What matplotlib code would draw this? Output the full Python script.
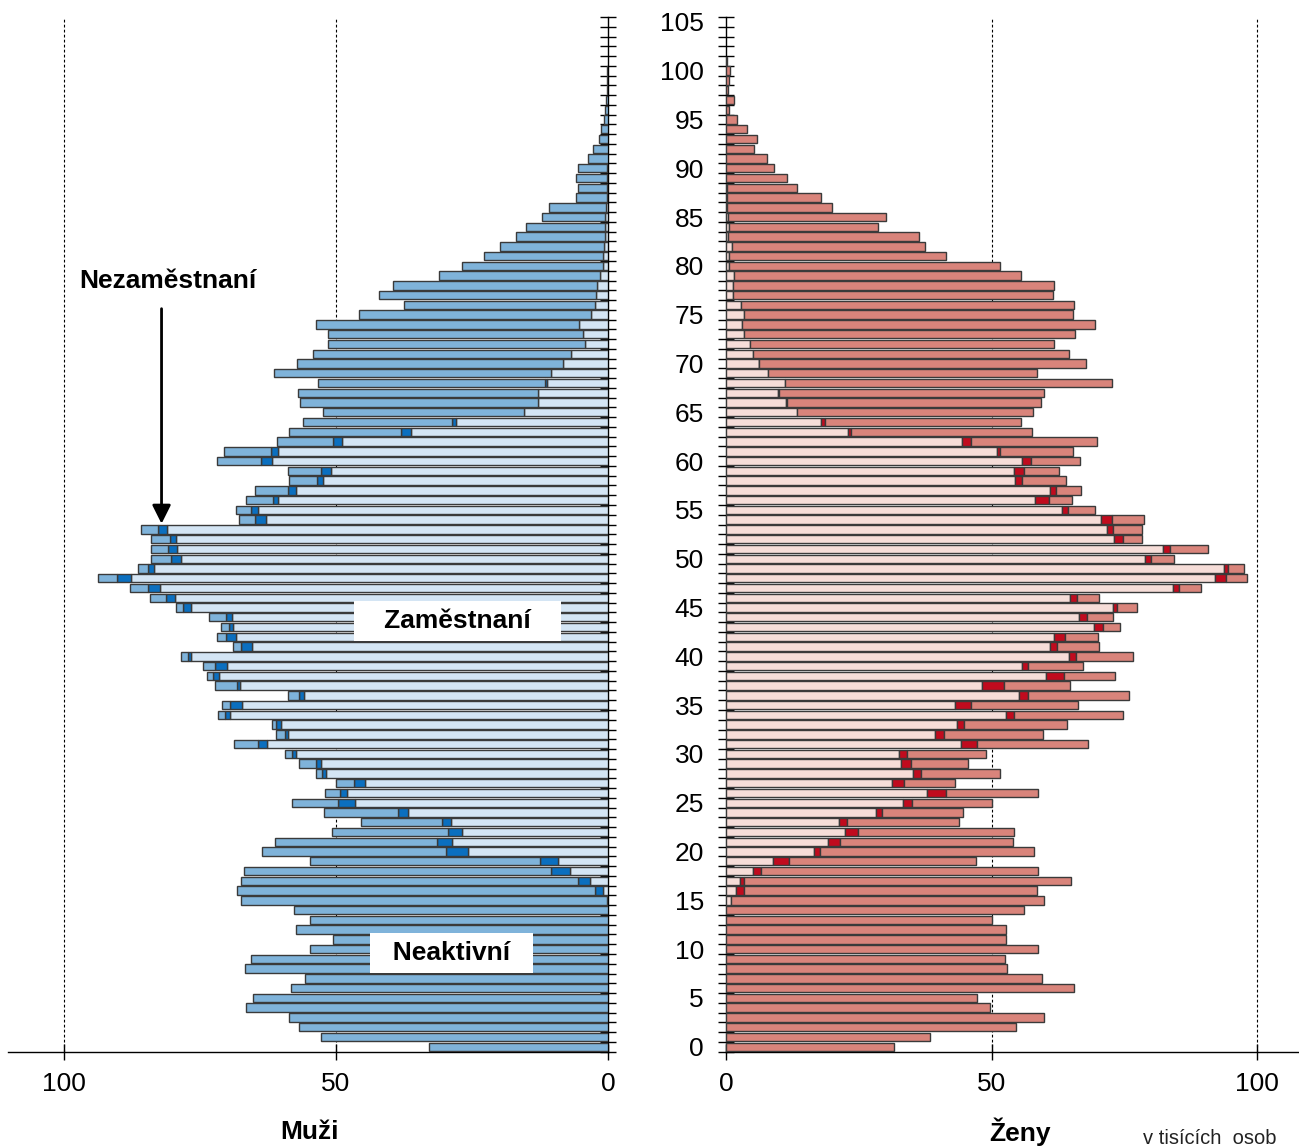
import numpy as np
import matplotlib.pyplot as plt

plt.rcParams['font.family'] = ['Liberation Sans', 'DejaVu Sans']

ages = np.arange(106)

# muži (v tisících osob), po jednotlivých letech věku 0..105
men_employed = [
    0, 0, 0, 0, 0, 0, 0, 0, 0, 0,
    0, 0, 0, 0, 0, 0.1, 1.0, 3.3, 6.9, 9.1,
    25.7, 28.7, 26.9, 28.9, 36.7, 46.5, 48.0, 44.6, 51.8, 52.8,
    57.3, 62.7, 58.7, 60.0, 69.5, 67.2, 55.8, 67.6, 71.5, 69.9,
    76.6, 65.4, 68.3, 68.8, 69.0, 76.6, 79.6, 82.3, 87.7, 83.4,
    78.4, 79.2, 79.3, 81.0, 62.9, 64.2, 60.6, 57.3, 52.4, 50.9,
    61.7, 60.6, 48.9, 36.2, 27.9, 15.4, 12.9, 12.9, 11.2, 10.4,
    8.2, 6.8, 4.3, 4.6, 5.4, 3.1, 2.4, 2.2, 2.0, 1.5,
    1.0, 1.0, 0.8, 0.6, 0.5, 0.5, 0.3, 0.2, 0.2, 0.1,
    0.1, 0, 0, 0, 0, 0, 0, 0, 0, 0,
    0, 0, 0, 0, 0, 0]
men_unemployed = [
    0, 0, 0, 0, 0, 0, 0, 0, 0, 0,
    0, 0, 0, 0, 0, 0, 1.4, 2.2, 3.5, 3.4,
    4.1, 2.7, 2.5, 1.5, 1.9, 3.0, 1.3, 2.0, 0.7, 0.9,
    0.8, 1.6, 0.7, 0.9, 0.9, 2.2, 0.9, 0.6, 1.1, 2.2,
    0.5, 2.0, 1.8, 0.9, 1.1, 1.4, 1.6, 2.2, 2.5, 1.0,
    1.8, 1.7, 1.2, 1.6, 2.0, 1.3, 0.9, 1.4, 1.0, 1.8,
    2.1, 1.3, 1.6, 1.8, 0.8, 0, 0, 0, 0.3, 0] + [0] * 36
men_total = [
    32.8, 52.7, 56.8, 58.5, 66.4, 65.2, 58.3, 55.6, 66.7, 65.6,
    54.8, 50.5, 57.3, 54.7, 57.6, 67.4, 68.1, 67.4, 66.9, 54.8,
    63.5, 61.2, 50.7, 45.3, 52.2, 58.1, 52.0, 50.0, 53.7, 56.8,
    59.3, 68.6, 61.0, 61.8, 71.7, 70.9, 58.8, 72.1, 73.6, 74.3,
    78.4, 68.9, 71.9, 71.1, 73.3, 79.4, 84.1, 87.8, 93.7, 86.3,
    83.9, 83.9, 83.9, 85.8, 67.7, 68.4, 66.5, 64.8, 58.5, 58.8,
    71.9, 70.6, 60.8, 58.5, 56.1, 52.4, 56.6, 56.9, 53.2, 61.3,
    57.1, 54.1, 51.4, 51.4, 53.6, 45.8, 37.5, 42.1, 39.4, 31.0,
    26.8, 22.7, 19.8, 16.9, 15.0, 12.2, 10.8, 5.8, 5.5, 5.8,
    5.6, 3.7, 2.8, 1.7, 1.2, 0.7, 0.6, 0.3, 0.2, 0.1,
    0.1, 0, 0, 0, 0, 0]

# ženy
women_employed = [
    0, 0, 0, 0, 0, 0, 0, 0, 0, 0,
    0, 0, 0, 0, 0, 0.9, 1.9, 2.6, 5.0, 8.8,
    16.6, 19.3, 22.4, 21.2, 28.2, 33.4, 37.9, 31.2, 35.2, 32.9,
    32.6, 44.2, 39.3, 43.5, 52.8, 43.2, 55.2, 48.3, 60.3, 55.7,
    64.6, 61.0, 61.8, 69.3, 66.5, 72.8, 64.8, 84.2, 92.1, 93.7,
    78.9, 82.3, 73.1, 71.7, 70.6, 63.3, 58.1, 61.0, 54.5, 54.3,
    55.8, 51.0, 44.4, 22.9, 17.8, 13.3, 11.3, 9.7, 11.1, 7.9,
    6.2, 5.1, 4.6, 3.3, 3.1, 3.3, 2.8, 1.3, 1.3, 1.6,
    0.5, 0.5, 1.1, 0.3, 0.5, 0.3, 0.2, 0.2, 0.1, 0] + [0] * 16
women_unemployed = [
    0, 0, 0, 0, 0, 0, 0, 0, 0, 0,
    0, 0, 0, 0, 0, 0, 1.4, 0.7, 1.6, 3.0,
    1.1, 2.1, 2.5, 1.5, 1.2, 1.6, 3.6, 2.3, 1.5, 2.0,
    1.4, 3.0, 1.7, 1.3, 1.5, 3.0, 1.6, 4.0, 3.3, 1.2,
    1.3, 1.4, 2.1, 1.6, 1.4, 0.9, 1.3, 1.1, 2.1, 0.9,
    1.1, 1.4, 1.6, 1.1, 2.0, 1.1, 2.7, 1.1, 1.3, 1.8,
    1.6, 0.6, 1.7, 0.6, 0.9, 0, 0.2, 0.2, 0, 0,
    0.1] + [0] * 35
women_total = [
    31.7, 38.5, 54.6, 59.8, 49.8, 47.2, 65.6, 59.5, 53.0, 52.5,
    58.8, 52.8, 52.8, 50.0, 56.1, 59.8, 58.5, 64.9, 58.8, 47.0,
    58.0, 54.0, 54.3, 43.8, 44.7, 50.0, 58.7, 43.1, 51.6, 45.5,
    48.9, 68.1, 59.7, 64.3, 74.8, 66.3, 75.9, 64.8, 73.3, 67.3,
    76.6, 70.3, 70.0, 74.1, 72.8, 77.4, 70.3, 89.4, 98.2, 97.5,
    84.3, 90.7, 78.3, 78.3, 78.7, 69.4, 65.1, 66.8, 64.1, 62.8,
    66.6, 65.3, 69.9, 57.6, 55.5, 57.8, 59.3, 59.8, 72.7, 58.6,
    67.8, 64.6, 61.8, 65.8, 69.4, 65.3, 65.6, 61.5, 61.8, 55.6,
    51.6, 41.5, 37.4, 36.4, 28.6, 30.2, 19.9, 17.9, 13.3, 11.5,
    9.0, 7.8, 5.3, 5.8, 4.0, 2.0, 0.5, 1.6, 0.4, 0.5,
    0.8, 0.1, 0, 0, 0, 0]

men_colors = ['#d4e5f4', '#0b6fbf', '#7fb3da']
women_colors = ['#f6ddd8', '#c00b1e', '#d9847b']
edge = '#3a3a3a'
bar_h = 0.86


def draw_side(ax, employed, unemployed, total, colors):
    e = np.array(employed, dtype=float)
    u = np.array(unemployed, dtype=float)
    t = np.array(total, dtype=float)
    inactive = np.clip(t - e - u, 0, None)
    parts = [(e, np.zeros_like(e)), (u, e), (inactive, e + u)]
    for (w, left), c in zip(parts, colors):
        m = w > 0
        ax.barh(ages[m], w[m], left=left[m], height=bar_h, color=c,
                edgecolor=edge, linewidth=1.0, zorder=3)
    for g in (50, 100):
        ax.axvline(g, color='black', lw=0.8, ls=(0, (2.5, 2)), zorder=1)
    ax.set_ylim(-0.5, 105.5)
    ax.set_xticks([0, 50, 100])
    ax.tick_params(axis='x', direction='inout', length=12, width=1,
                   labelsize=19, pad=9)
    ax.set_yticks(np.arange(-0.5, 106, 1), minor=True)
    ax.tick_params(axis='y', which='minor', direction='inout', length=12, width=1)
    ax.spines['top'].set_visible(False)
    for s in ax.spines.values():
        s.set_linewidth(1.0)


fig = plt.figure(figsize=(12.99, 11.47), dpi=100)
bottom = 1 - 1051.6 / 1147
height = (1051.6 - 17) / 1147

axL = fig.add_axes([8 / 1299, bottom, 600 / 1299, height])
draw_side(axL, men_employed, men_unemployed, men_total, men_colors)
axL.set_xlim(110.2, 0)
axL.spines['left'].set_visible(False)
axL.yaxis.tick_right()
axL.set_yticks([])
axL.set_yticks(np.arange(-0.5, 106, 1), minor=True)
axL.tick_params(axis='y', which='minor', direction='inout', length=12, width=1)

axR = fig.add_axes([726 / 1299, bottom, 573 / 1299, height])
draw_side(axR, women_employed, women_unemployed, women_total, women_colors)
axR.set_xlim(0, 107.9)
axR.spines['right'].set_visible(False)
axR.set_yticks(np.arange(0, 106, 5))
axR.tick_params(axis='y', which='major', length=0, labelsize=19, pad=16)

lbl = dict(fontsize=19, fontweight='bold', ha='center', va='center', zorder=6)
box = dict(boxstyle='square,pad=0.3', facecolor='white', edgecolor='none')
axL.text(27.6, 43.6, '\u00a0\u00a0\u00a0Zaměstnaní\u00a0\u00a0\u00a0', bbox=box, **lbl)
axL.text(28.8, 9.6, '\u00a0\u00a0Neaktivní\u00a0\u00a0', bbox=box, **lbl)
axL.text(80.9, 78.5, 'Nezaměstnaní', **lbl)
axL.annotate('', xy=(82.0, 53.3), xytext=(82.0, 75.9),
             arrowprops=dict(arrowstyle='-|>', color='black', lw=2,
                             mutation_scale=28), zorder=6)

fig.text(310 / 1299, 1 - 1132 / 1147, 'Muži', fontsize=19, fontweight='bold',
         ha='center', va='center')
fig.text(1020 / 1299, 1 - 1132 / 1147, 'Ženy', fontsize=19, fontweight='bold',
         ha='center', va='center')
fig.text(1210 / 1299, 1 - 1138 / 1147, 'v tisících  osob', fontsize=14.5,
         ha='center', va='center', color='#222222')

fig.savefig('out.png', dpi=100)
